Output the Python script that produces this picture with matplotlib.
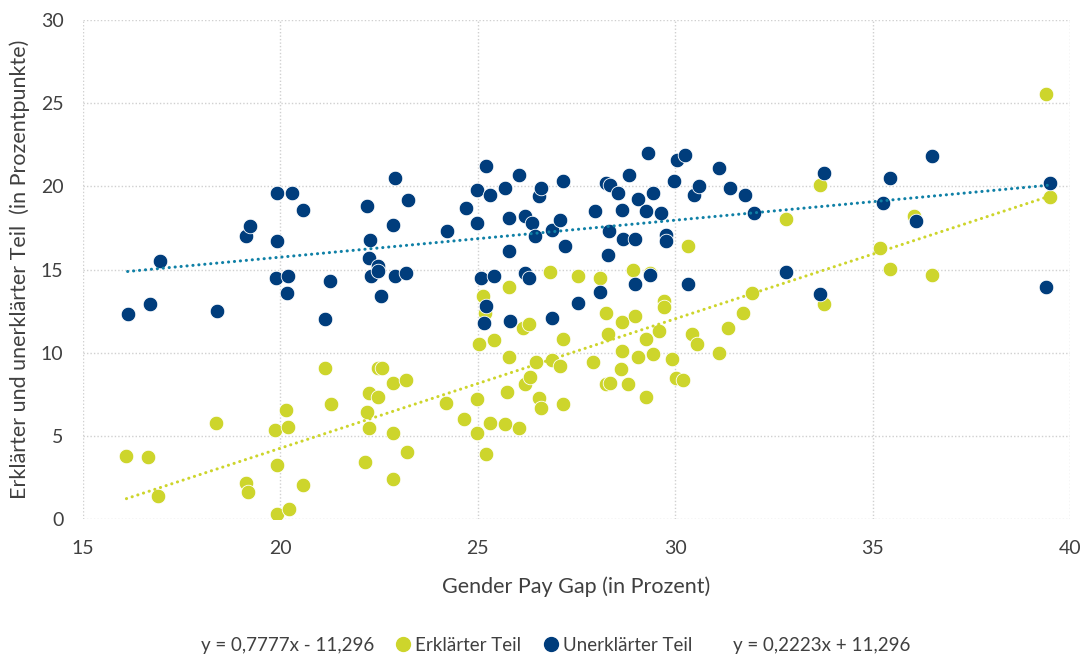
import numpy as np
import matplotlib.pyplot as plt
from matplotlib.lines import Line2D

# Erklärter Teil (gap in %, Prozentpunkte)
erkl_x = [16.1, 16.65, 16.89, 18.38, 19.12, 19.17, 19.87, 19.91, 19.91, 20.14, 20.19, 20.23, 20.56,
          21.12, 21.27, 22.14, 22.19, 22.24, 22.24, 22.47, 22.48, 22.58, 22.84, 22.84, 22.84, 23.17,
          23.21, 24.19, 24.65, 24.98, 24.98, 25.03, 25.12, 25.17, 25.22, 25.31, 25.40, 25.68, 25.73,
          25.78, 25.78, 26.05, 26.15, 26.2, 26.29, 26.33, 26.47, 26.56, 26.61, 26.84, 26.89, 27.08,
          27.16, 27.16, 27.53, 27.91, 28.1, 28.24, 28.29, 28.24, 28.35, 28.62, 28.65, 28.66, 28.8,
          28.94, 28.98, 29.07, 29.26, 29.26, 29.35, 29.44, 29.58, 29.72, 29.72, 29.91, 30.02, 30.2,
          30.32, 30.42, 30.56, 31.11, 31.35, 31.72, 31.95, 32.8, 33.67, 33.77, 35.2, 35.44, 36.04,
          36.51, 39.4, 39.49]
erkl_y = [3.8, 3.7, 1.4, 5.8, 2.15, 1.6, 5.35, 3.25, 0.3, 6.55, 5.55, 0.6, 2.05,
          9.1, 6.9, 3.4, 6.45, 7.55, 5.45, 7.35, 9.1, 9.1, 8.2, 5.2, 2.4, 8.35,
          4.05, 7.0, 6.0, 7.2, 5.15, 10.55, 13.4, 12.4, 3.9, 5.8, 10.75, 5.7, 7.65,
          13.95, 9.75, 5.45, 11.5, 8.1, 11.75, 8.55, 9.45, 7.25, 6.65, 14.85, 9.55, 9.2,
          10.85, 6.9, 14.6, 9.45, 14.5, 12.4, 11.1, 8.1, 8.2, 9.0, 11.85, 10.1, 8.1,
          14.95, 12.2, 9.75, 10.85, 7.35, 14.8, 9.9, 11.3, 13.1, 12.75, 9.65, 8.45, 8.35,
          16.4, 11.1, 10.5, 10.0, 11.5, 12.4, 13.6, 18.05, 20.1, 12.95, 16.3, 15.05, 18.2,
          14.7, 25.55, 19.35]

# Unerklärter Teil
unerkl_x = [16.13, 16.69, 16.94, 18.39, 19.12, 19.22, 19.91, 19.91, 19.88, 20.18, 20.16, 20.29, 20.57,
            21.25, 21.12, 22.19, 22.28, 22.24, 22.29, 22.47, 22.47, 22.54, 22.84, 22.9, 22.89, 23.22,
            23.18, 24.23, 24.70, 24.98, 24.98, 25.08, 25.2, 25.16, 25.2, 25.3, 25.4, 25.68, 25.78,
            25.78, 25.82, 26.05, 26.19, 26.19, 26.29, 26.38, 26.46, 26.55, 26.6, 26.88, 26.88, 27.08,
            27.16, 27.22, 27.53, 27.96, 28.1, 28.24, 28.34, 28.29, 28.33, 28.55, 28.65, 28.69, 28.83,
            28.99, 28.99, 29.07, 29.26, 29.31, 29.35, 29.44, 29.63, 29.77, 29.77, 29.96, 30.05, 30.24,
            30.32, 30.47, 30.61, 31.11, 31.40, 31.77, 32.0, 32.8, 33.67, 33.77, 35.26, 35.44, 36.1,
            36.51, 39.5, 39.4]
unerkl_y = [12.3, 12.9, 15.5, 12.5, 17.0, 17.6, 19.6, 16.7, 14.5, 14.6, 13.6, 19.6, 18.6,
            14.3, 12.0, 18.8, 16.8, 15.7, 14.6, 15.2, 14.9, 13.4, 17.7, 20.5, 14.6, 19.2,
            14.8, 17.3, 18.7, 19.8, 17.8, 14.5, 12.8, 11.8, 21.2, 19.5, 14.6, 19.9, 18.1,
            16.1, 11.9, 20.7, 18.2, 14.8, 14.5, 17.8, 17.0, 19.4, 19.9, 17.4, 12.1, 18.0,
            20.3, 16.4, 13.0, 18.5, 13.65, 20.2, 20.1, 15.9, 17.3, 19.6, 18.6, 16.85, 20.7,
            16.85, 14.1, 19.25, 18.5, 22.0, 14.65, 19.6, 18.4, 17.1, 16.7, 20.35, 21.6, 21.9,
            14.1, 19.5, 20.05, 21.1, 19.9, 19.5, 18.4, 14.85, 13.5, 20.8, 19.0, 20.5, 17.9,
            21.8, 20.2, 13.95]

# linear trend coefficients (slope, intercept) as printed in the legend
erkl_trend = (0.7777, -11.296)
unerkl_trend = (0.2223, 11.296)
erkl_label = 'y = 0,7777x - 11,296'
unerkl_label = 'y = 0,2223x + 11,296'

yellow = '#cdd52c'
navy = '#003d7c'
teal = '#0f80a6'
text_col = '#404040'

plt.rcParams['font.family'] = ['Lato', 'DejaVu Sans']

fig = plt.figure(figsize=(10.81, 6.6), dpi=100)
ax = fig.add_axes([0.0768, 0.2136, 0.9130, 0.7561])

ax.scatter(erkl_x, erkl_y, s=110, color=yellow, edgecolors='white', linewidths=0.6, zorder=3)
ax.scatter(unerkl_x, unerkl_y, s=110, color=navy, edgecolors='white', linewidths=0.6, zorder=4)

for xs, (m, b), col in [(erkl_x, erkl_trend, yellow), (unerkl_x, unerkl_trend, teal)]:
    tx = np.array([min(xs), max(xs)])
    ax.plot(tx, m * tx + b, color=col, linewidth=2.2, linestyle=(0, (0.05, 1.9)),
            dash_capstyle='round', zorder=5)

ax.set_xlim(15, 40)
ax.set_ylim(0, 30)
ax.set_xticks(range(15, 41, 5))
ax.set_yticks(range(0, 31, 5))
ax.grid(True, color='#d0d0d0', linestyle=(0, (1, 1.5)), linewidth=1.0)
ax.set_axisbelow(True)
for s in ax.spines.values():
    s.set_visible(False)
ax.tick_params(length=0, labelsize=14, colors=text_col)
ax.tick_params(axis='x', pad=15)
ax.tick_params(axis='y', pad=14)

ax.set_xlabel('Gender Pay Gap (in Prozent)', fontsize=15.5, color=text_col, labelpad=14)
ax.set_ylabel('Erklärter und unerklärter Teil  (in Prozentpunkte)', fontsize=15.5,
              color=text_col, labelpad=8)

handles = [Line2D([], [], linestyle='none'),
           Line2D([], [], marker='o', linestyle='none', color=yellow, markersize=10),
           Line2D([], [], marker='o', linestyle='none', color=navy, markersize=10),
           Line2D([], [], linestyle='none')]
labels = [erkl_label, 'Erklärter Teil', 'Unerklärter Teil', unerkl_label]
leg = fig.legend(handles, labels, loc='center', bbox_to_anchor=(0.5056, 0.022), ncol=4,
                 frameon=False, fontsize=13.5, handlelength=0.7, handletextpad=0.3,
                 columnspacing=1.2)
for t in leg.get_texts():
    t.set_color(text_col)

fig.savefig('out.png', dpi=100)
